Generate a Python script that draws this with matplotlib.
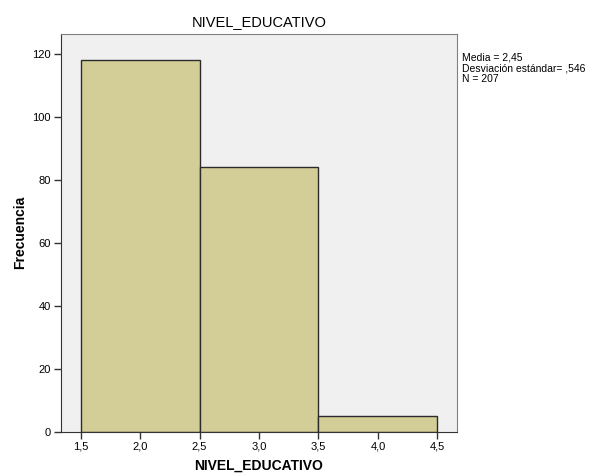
import matplotlib
matplotlib.use("Agg")
import matplotlib.pyplot as plt
import numpy as np

plt.rcParams['font.family'] = ['Liberation Sans', 'DejaVu Sans']

# datos del histograma
bordes = [1.5, 2.5, 3.5, 4.5]
frecuencias = [118, 84, 5]
xticks = [1.5, 2.0, 2.5, 3.0, 3.5, 4.0, 4.5]
xtick_labels = ["1,5", "2,0", "2,5", "3,0", "3,5", "4,0", "4,5"]
yticks = [0, 20, 40, 60, 80, 100, 120]
estadisticos = ["Media = 2,45", "Desviación estándar= ,546", "N = 207"]

fig = plt.figure(figsize=(5.92, 4.75), dpi=100)
ax = fig.add_axes([0.1025, 0.0912, 0.67, 0.8372])
ax.set_facecolor("#f0f0f0")

anchos = np.diff(bordes)
ax.bar(bordes[:-1], frecuencias, width=anchos, align="edge",
       color="#d3ce98", edgecolor="#2b2b2b", linewidth=1.0)

ax.set_xlim(1.332, 4.668)
ax.set_ylim(0, 126.3)
ax.set_xticks(xticks)
ax.set_xticklabels(xtick_labels, fontsize=8)
ax.set_yticks(yticks)
ax.set_yticklabels([str(v) for v in yticks], fontsize=8)
ax.tick_params(axis="both", direction="out", length=5, width=1, color="#333333", pad=2)

for lado in ["top", "right"]:
    ax.spines[lado].set_color("#808080")
for lado in ["left", "bottom"]:
    ax.spines[lado].set_color("#333333")

ax.set_title("NIVEL_EDUCATIVO", fontsize=10.5, pad=6)
ax.set_xlabel("NIVEL_EDUCATIVO", fontsize=10, fontweight="bold", labelpad=5)
ax.set_ylabel("Frecuencia", fontsize=10, fontweight="bold", labelpad=4)

fig.text(462 / 592, 1 - 53 / 475, "\n".join(estadisticos), fontsize=7.5,
         va="top", ha="left", linespacing=1.08)

fig.savefig("out.png", dpi=100)
